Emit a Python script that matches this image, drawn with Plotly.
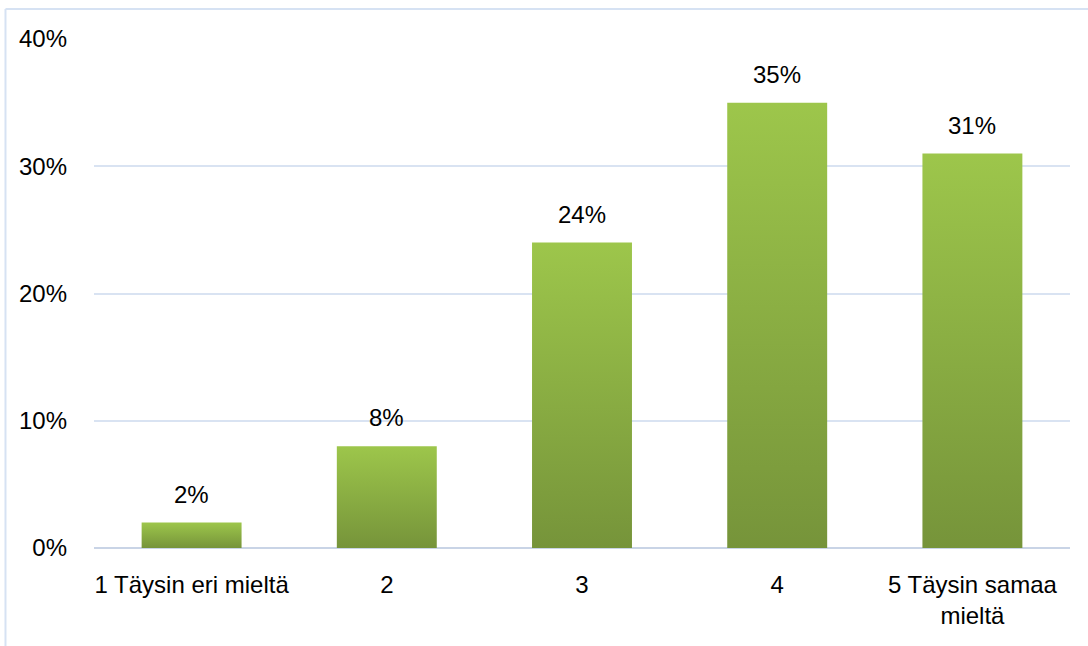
import plotly.graph_objects as go

categories = ["1 Täysin eri mieltä", "2", "3", "4", "5 Täysin samaa<br>mieltä"]
shares = [2, 8, 24, 35, 31]
tick_values = [0, 10, 20, 30, 40]
tick_labels = ["0%", "10%", "20%", "30%", "40%"]

FONT = "Liberation Sans, Arial, sans-serif"
FONT_SIZE = 24
BAR_TOP = "#9dc64b"
BAR_BOTTOM = "#76943a"
HALF_WIDTH = 0.256

fig = go.Figure()

# Each bar is a filled rectangle so it can carry a vertical gradient
for i, v in enumerate(shares):
    x0, x1 = i - HALF_WIDTH, i + HALF_WIDTH
    fig.add_trace(go.Scatter(
        x=[x0, x1, x1, x0, x0],
        y=[0, 0, v, v, 0],
        mode="lines",
        line=dict(width=0),
        fill="toself",
        fillgradient=dict(
            type="vertical",
            colorscale=[[0, BAR_BOTTOM], [1, BAR_TOP]],
        ),
        hoverinfo="skip",
        showlegend=False,
    ))

# Value labels above the bars
annotations = [
    dict(x=i, y=v, xref="x", yref="y", text=f"{v}%", showarrow=False,
         yanchor="bottom", yshift=13,
         font=dict(family=FONT, size=FONT_SIZE, color="#000000"))
    for i, v in enumerate(shares)
]

fig.update_layout(
    width=1088,
    height=646,
    margin=dict(l=94, r=18, t=39, b=98),
    paper_bgcolor="white",
    plot_bgcolor="white",
    font=dict(family=FONT, size=FONT_SIZE, color="#000000"),
    annotations=annotations,
    xaxis=dict(
        range=[-0.5, len(categories) - 0.5],
        tickmode="array",
        tickvals=list(range(len(categories))),
        ticktext=categories,
        showgrid=False,
        zeroline=False,
        showline=False,
        ticks="",
        ticklabelstandoff=20,
        tickfont=dict(family=FONT, size=FONT_SIZE),
        fixedrange=True,
    ),
    yaxis=dict(
        range=[0, 40],
        tickmode="array",
        tickvals=tick_values,
        ticktext=tick_labels,
        showgrid=True,
        gridcolor="#d9e3f2",
        gridwidth=1.5,
        zeroline=True,
        zerolinecolor="#c9d4e6",
        zerolinewidth=2,
        showline=False,
        ticks="",
        ticklabelstandoff=26,
        tickfont=dict(family=FONT, size=FONT_SIZE),
        fixedrange=True,
    ),
    shapes=[
        # chart frame
        dict(type="line", xref="paper", yref="paper",
             x0=-0.0907, x1=1.03, y0=1.0589, y1=1.0589,
             line=dict(color="#d6e2f3", width=2)),
        dict(type="line", xref="paper", yref="paper",
             x0=-0.0907, x1=-0.0907, y0=1.0589, y1=-0.21,
             line=dict(color="#d6e2f3", width=2)),
    ],
)

fig.write_html("out.html")
